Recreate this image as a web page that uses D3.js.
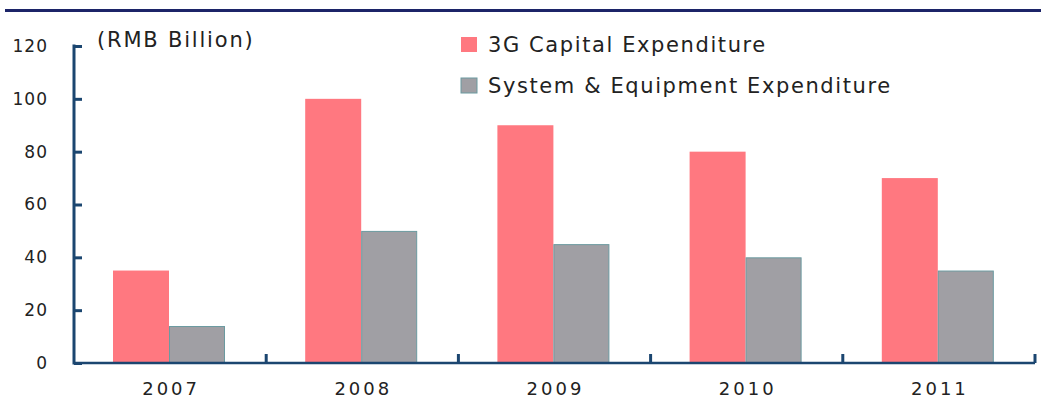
<!DOCTYPE html>
<html>
<head>
<meta charset="utf-8">
<script src="https://cdn.jsdelivr.net/npm/d3@7"></script>
<style>
  body { margin: 0; background: #fff; }
  text { font-family: "DejaVu Sans", Verdana, sans-serif; fill: #222; }
</style>
</head>
<body>
<script>
// Data
const years = ["2007", "2008", "2009", "2010", "2011"];
const seriesNames = ["3G Capital Expenditure", "System & Equipment Expenditure"];
const capex = [35, 100, 90, 80, 70];
const equipment = [14, 50, 45, 40, 35];
const yTicks = [0, 20, 40, 60, 80, 100, 120];
const unitLabel = "(RMB Billion)";

const width = 1041, height = 410;
const margin = {top: 46, right: 6, bottom: 47, left: 74};
const colors = ["#ff7880", "#a09fa4"];
const axisColor = "#1b4670";

const svg = d3.select("body").append("svg")
    .attr("width", width)
    .attr("height", height);

// top rule
svg.append("rect")
    .attr("x", 5).attr("y", 9)
    .attr("width", width - 5).attr("height", 3)
    .attr("fill", "#1c2468");

const x0 = d3.scaleBand()
    .domain(years)
    .range([margin.left, width - margin.right])
    .padding(0);

const x1 = d3.scaleBand()
    .domain(seriesNames)
    .range([39, 151]);

const y = d3.scaleLinear()
    .domain([0, 120])
    .range([height - margin.bottom, margin.top]);

const rows = years.map((yr, i) => ({year: yr, values: [capex[i], equipment[i]]}));

// bars
const groups = svg.append("g").selectAll("g")
    .data(rows)
    .join("g")
    .attr("transform", d => `translate(${x0(d.year)},0)`);

groups.selectAll("rect")
    .data(d => d.values.map((v, k) => ({key: seriesNames[k], value: v, k: k})))
    .join("rect")
    .attr("x", d => x1(d.key) + (d.k ? 0.5 : 0))
    .attr("y", d => y(d.value) + (d.k ? 0.5 : 0))
    .attr("width", d => x1.bandwidth() - (d.k ? 1 : 0))
    .attr("height", d => y(0) - y(d.value) - (d.k ? 0.5 : 0))
    .attr("fill", (d) => colors[d.k])
    .attr("stroke", d => d.k ? "#6b9aa0" : "none")
    .attr("stroke-width", 1);

// y axis
const yAxis = svg.append("g")
    .attr("transform", `translate(${margin.left},0)`)
    .call(d3.axisRight(y).tickValues(yTicks).tickSize(8).tickFormat(""));
yAxis.select(".domain").remove();
yAxis.selectAll("line").attr("stroke", axisColor).attr("stroke-width", 3);
svg.append("line")
    .attr("x1", margin.left).attr("x2", margin.left)
    .attr("y1", y(120) - 1.5).attr("y2", y(0) + 1.5)
    .attr("stroke", axisColor).attr("stroke-width", 3);

svg.append("g").selectAll("text")
    .data(yTicks)
    .join("text")
    .attr("x", 48)
    .attr("y", d => y(d))
    .attr("dy", "0.35em")
    .attr("text-anchor", "end")
    .attr("font-size", 17)
    .attr("letter-spacing", 1)
    .text(d => d);

// x axis
svg.append("line")
    .attr("x1", margin.left).attr("x2", width - margin.right)
    .attr("y1", y(0)).attr("y2", y(0))
    .attr("stroke", axisColor).attr("stroke-width", 2.5);

svg.append("g").selectAll("line")
    .data(years)
    .join("line")
    .attr("x1", d => x0(d) + x0.bandwidth())
    .attr("x2", d => x0(d) + x0.bandwidth())
    .attr("y1", y(0))
    .attr("y2", y(0) - 9)
    .attr("stroke", axisColor)
    .attr("stroke-width", 3);

svg.append("g").selectAll("text")
    .data(years)
    .join("text")
    .attr("x", d => x0(d) + x0.bandwidth() / 2 + 1)
    .attr("y", 395)
    .attr("text-anchor", "middle")
    .attr("font-size", 18)
    .attr("letter-spacing", 3)
    .text(d => d);

// unit label
svg.append("text")
    .attr("x", 97)
    .attr("y", 47)
    .attr("font-size", 21)
    .attr("letter-spacing", 1.8)
    .text(unitLabel);

// legend
const legend = svg.append("g").selectAll("g")
    .data(seriesNames)
    .join("g")
    .attr("transform", (d, i) => `translate(461,${37 + i * 41})`);

legend.append("rect")
    .attr("width", 16).attr("height", 15)
    .attr("fill", (d, i) => colors[i])
    .attr("stroke", (d, i) => i ? "#6b9aa0" : "none");

legend.append("text")
    .attr("x", 27)
    .attr("y", 15)
    .attr("font-size", 21)
    .attr("letter-spacing", 1.6)
    .text(d => d);
</script>
</body>
</html>
